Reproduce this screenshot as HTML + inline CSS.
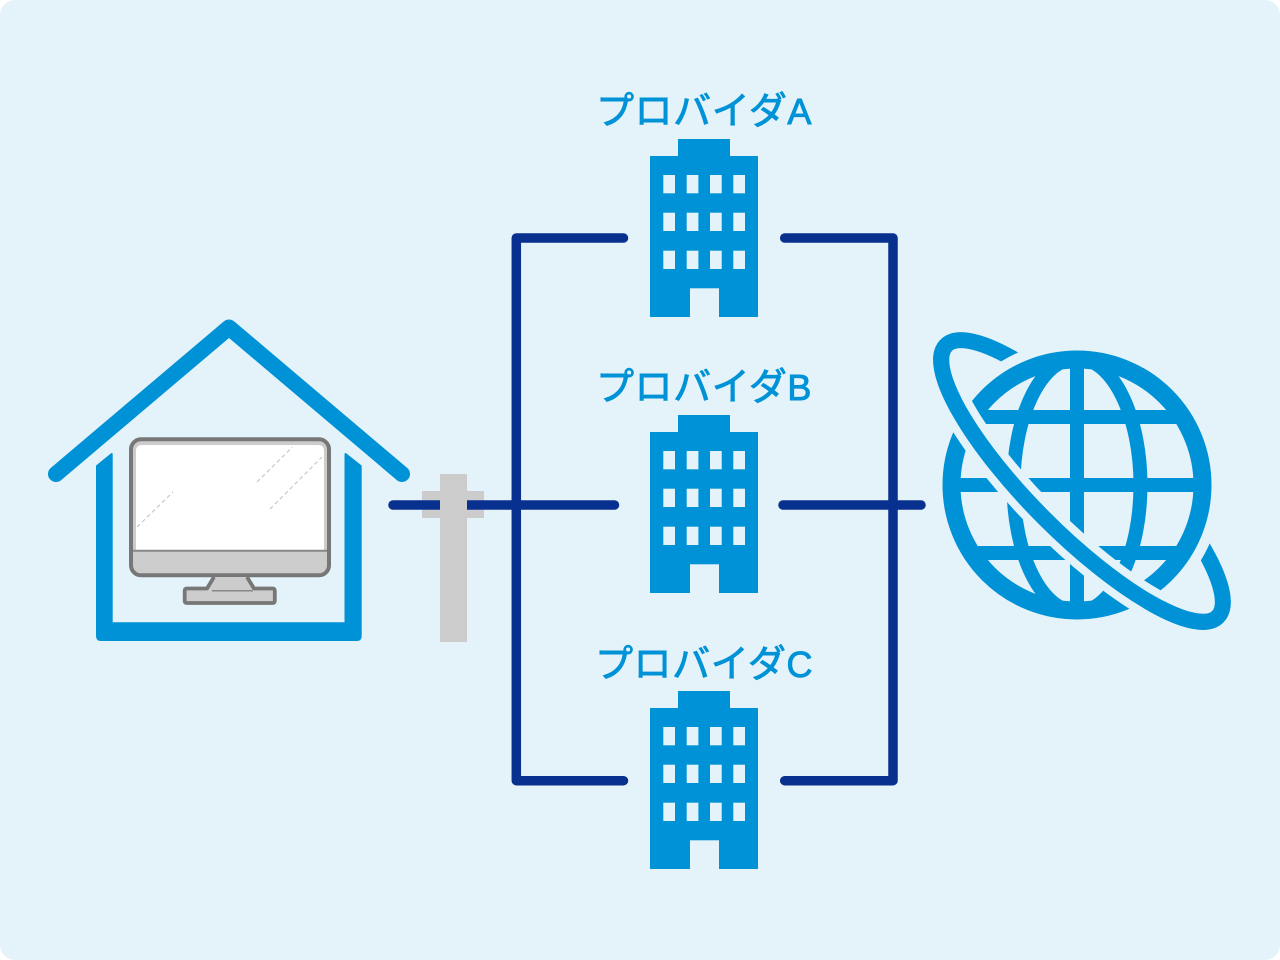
<!DOCTYPE html>
<html>
<head>
<meta charset="utf-8">
<style>
  html, body { margin:0; padding:0; background:#ffffff; }
  body { width:1280px; height:960px; overflow:hidden; }
  svg { display:block; }
  text { font-family: "Liberation Sans", "Noto Sans CJK JP", sans-serif; }
</style>
</head>
<body>
<svg width="1280" height="960" viewBox="0 0 1280 960" xmlns="http://www.w3.org/2000/svg">
  <defs>
    <clipPath id="globeIn"><circle cx="1077" cy="485" r="125"/></clipPath>
    <clipPath id="globeGap"><circle cx="1077" cy="485" r="140"/></clipPath>
    <g id="bldg">
      <rect x="678" y="-17" width="52" height="18" fill="#0092d7"/>
      <rect x="650" y="0" width="108" height="161" fill="#0092d7"/>
      <g fill="#e4f3fa">
        <rect x="663.3" y="19" width="11.7" height="18.3"/>
        <rect x="686.7" y="19" width="11.7" height="18.3"/>
        <rect x="710" y="19" width="11.7" height="18.3"/>
        <rect x="733.3" y="19" width="11.7" height="18.3"/>
        <rect x="663.3" y="56.7" width="11.7" height="18.3"/>
        <rect x="686.7" y="56.7" width="11.7" height="18.3"/>
        <rect x="710" y="56.7" width="11.7" height="18.3"/>
        <rect x="733.3" y="56.7" width="11.7" height="18.3"/>
        <rect x="663.3" y="94.7" width="11.7" height="18.3"/>
        <rect x="686.7" y="94.7" width="11.7" height="18.3"/>
        <rect x="710" y="94.7" width="11.7" height="18.3"/>
        <rect x="733.3" y="94.7" width="11.7" height="18.3"/>
        <rect x="690" y="132.3" width="29" height="29"/>
      </g>
    </g>
  </defs>

  <!-- background -->
  <rect x="0" y="0" width="1280" height="960" rx="15" ry="15" fill="#e4f3fa"/>

  <!-- navy connectors -->
  <g fill="none" stroke="#08308e" stroke-width="9.5" stroke-linecap="round" stroke-linejoin="round">
    <path d="M623.5 238 H516.3 V780.7 H623.5"/>
    <path d="M784.7 238 H893 V780.7 H784.7"/>
    <path d="M783 505 H921"/>
  </g>

  <!-- pole crossbar (under line) -->
  <rect x="422" y="491" width="62" height="27" fill="#cccccc"/>
  <path d="M393 505 H614.5" fill="none" stroke="#08308e" stroke-width="9.5" stroke-linecap="round"/>
  <!-- pole vertical (over line) -->
  <rect x="440" y="474" width="27" height="168" fill="#cccccc"/>

  <!-- house -->
  <path d="M56 474 L229 327.5 L402 474" fill="none" stroke="#0092d7" stroke-width="16" stroke-linecap="round" stroke-linejoin="round"/>
  <path d="M97 466 L111.7 454 V623.3 H345.5 V454 L360.7 466 V636 Q360.7 640 356.7 640 H101 Q97 640 97 636 Z" fill="#0092d7" stroke="#0092d7" stroke-width="2" stroke-linejoin="round"/>

  <!-- monitor -->
  <rect x="131" y="439.3" width="198" height="136" rx="10" ry="10" fill="#cccccc" stroke="#777777" stroke-width="4"/>
  <path d="M136 451 Q136 445 142 445 H318 Q324 445 324 451 V550 H136 Z" fill="#ffffff"/>
  <line x1="133" y1="550.8" x2="327" y2="550.8" stroke="#888888" stroke-width="2"/>
  <g fill="none" stroke="#c8c8c8" stroke-width="1.2" stroke-dasharray="4 3">
    <line x1="137" y1="527" x2="173" y2="492"/>
    <line x1="257" y1="482" x2="292.5" y2="447"/>
    <line x1="270" y1="509" x2="322" y2="457"/>
  </g>
  <path d="M214 577 L207 588.5 H187 Q184.7 588.5 184.7 591 V600.5 Q184.7 603 187 603 H272.5 Q274.8 603 274.8 600.5 V591 Q274.8 588.5 272.5 588.5 H254 L247 577" fill="#cccccc" stroke="#777777" stroke-width="3.8" stroke-linejoin="round"/>
  <line x1="212" y1="590.8" x2="253" y2="590.8" stroke="#888888" stroke-width="1.5"/>

  <!-- buildings -->
  <use href="#bldg" transform="translate(0,156)"/>
  <use href="#bldg" transform="translate(0,432)"/>
  <use href="#bldg" transform="translate(0,708)"/>

  <!-- labels -->
  <g fill="#0092d7" stroke="#0092d7" stroke-width="0.9" font-size="38" text-anchor="middle">
    <text x="704" y="124" letter-spacing="0.6">プロバイダ<tspan font-size="36">A</tspan></text>
    <text x="704" y="400" letter-spacing="0.6">プロバイダ<tspan font-size="36">B</tspan></text>
    <text x="704" y="677" letter-spacing="0.6">プロバイダ<tspan font-size="36">C</tspan></text>
  </g>

  <!-- globe -->
  <g transform="translate(1082 481) rotate(45)">
    <ellipse cx="0" cy="0" rx="192" ry="53" fill="none" stroke="#0092d7" stroke-width="16"/>
  </g>
  <circle cx="1077" cy="485" r="145" fill="#e4f3fa"/>
  <circle cx="1077" cy="485" r="125.5" fill="none" stroke="#0092d7" stroke-width="18"/>
  <g clip-path="url(#globeIn)" stroke="#0092d7" stroke-width="14" fill="none">
    <line x1="1077" y1="340" x2="1077" y2="630"/>
    <line x1="930" y1="485" x2="1225" y2="485"/>
    <line x1="930" y1="417" x2="1225" y2="417"/>
    <line x1="930" y1="553" x2="1225" y2="553"/>
    <ellipse cx="1077" cy="485" rx="63.5" ry="127"/>
  </g>
  <g clip-path="url(#globeGap)">
    <g transform="translate(1082 481) rotate(45)">
      <path d="M-192 0 A192 53 0 0 0 192 0" fill="none" stroke="#e4f3fa" stroke-width="32"/>
    </g>
  </g>
  <g transform="translate(1082 481) rotate(45)">
    <path d="M-192 0 A192 53 0 0 0 192 0" fill="none" stroke="#0092d7" stroke-width="16"/>
  </g>
</svg>
</body>
</html>
